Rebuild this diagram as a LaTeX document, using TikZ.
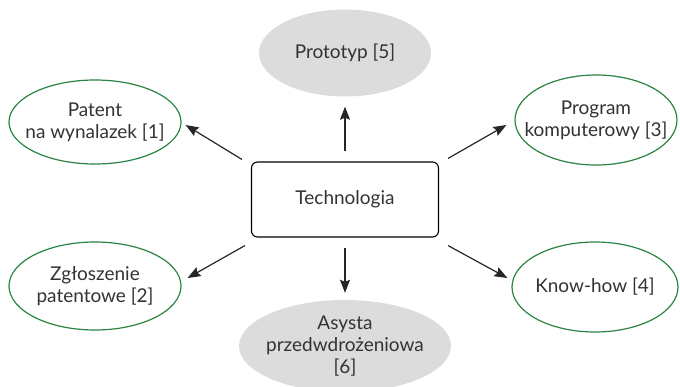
\documentclass[tikz,border=0pt]{standalone}
\usepackage{fontspec}
\setmainfont{Lato}
\usetikzlibrary{shapes.geometric,arrows.meta}
\definecolor{grn}{HTML}{2A8442}
\definecolor{gfill}{HTML}{DCDCDD}
\definecolor{txt}{HTML}{333333}
\begin{document}
\begin{tikzpicture}[x=1pt,y=-1pt,
  every node/.style={font=\fontsize{19}{22}\selectfont, text=txt, align=center, inner sep=0pt},
  gnode/.style={ellipse, draw=grn, line width=1.2pt, fill=white, inner xsep=-40pt, inner ysep=-10pt},
  fnode/.style={ellipse, fill=gfill, inner xsep=-40pt, inner ysep=-10pt},
  techbox/.style={rectangle, rounded corners=6pt, draw=black, line width=1.1pt, minimum width=187pt, minimum height=75pt},
  arr/.style={-{Stealth[length=13pt,width=10pt,inset=2pt]}, line width=1.2pt, draw=black!85}]
\useasboundingbox (0,0) rectangle (680,386);
\node[techbox] (tech) at (345,199.5) {Technologia};
\node[fnode, minimum width=172pt, minimum height=87pt] (proto) at (345,53) {Prototyp [5]};
\node[gnode, minimum width=172pt, minimum height=84pt] (pat) at (95,122) {Patent\\na wynalazek [1]};
\node[gnode, minimum width=162pt, minimum height=90pt] (prog) at (596,120) {Program\\komputerowy [3]};
\node[gnode, minimum width=172pt, minimum height=88pt] (zgl) at (95,286) {Zgłoszenie\\patentowe [2]};
\node[gnode, minimum width=166pt, minimum height=90pt] (know) at (595,287) {Know-how [4]};
\node[fnode, minimum width=212pt, minimum height=92pt] (asy) at (345,346) {Asysta\\przedwdrożeniowa\\{}[6]};
\draw[arr, shorten <=10pt, shorten >=10pt] (tech.north) -- (proto.south);
\draw[arr, shorten <=10pt, shorten >=7pt] (tech.south) -- (asy.north);
\draw[arr] ([shift={(-9,-2)}]tech.north west) -- ([shift={(4,3)}]pat.east);
\draw[arr] ([shift={(9,-3)}]tech.north east) -- ([shift={(-8,5)}]prog.west);
\draw[arr] ([shift={(-6,8)}]tech.south west) -- ([shift={(6,-8)}]zgl.east);
\draw[arr] ([shift={(9,8)}]tech.south east) -- ([shift={(-4,-9)}]know.west);
\end{tikzpicture}
\end{document}
